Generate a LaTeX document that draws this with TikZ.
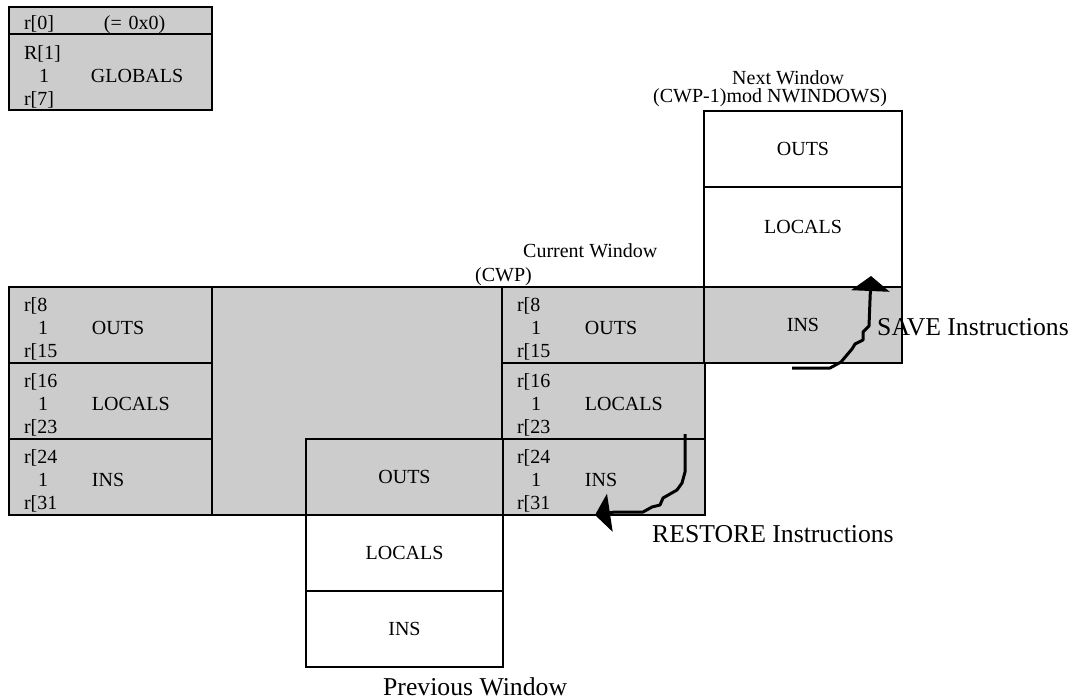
\documentclass[tikz,border=0pt]{standalone}
\usepackage{fontspec}
\setmainfont{Liberation Serif}
\usepackage{xcolor}
\usetikzlibrary{arrows.meta}
\definecolor{winfill}{HTML}{CCCCCC}

\begin{document}
\begin{tikzpicture}[
x=1pt,
y=-1pt,
every node/.style={font=\fontsize{20}{23}\selectfont},
cell/.style={rectangle,draw,line width=2pt,minimum height=76pt,inner sep=0pt,align=center},
regbox/.style={cell,fill=winfill,text width=173pt,inner xsep=15pt,align=left},
lbl/.style={inner sep=0pt,anchor=base west},
biglbl/.style={lbl,font=\fontsize{25.7}{30}\selectfont},
arr/.style={line width=3pt,line join=round,-{Triangle[length=15pt,width=38pt]}}
]
\useasboundingbox (0,0) rectangle (1083,700);

% globals
\node[cell,fill=winfill,minimum width=203pt,minimum height=27pt,text height=20pt,text depth=1pt,text width=173pt,inner xsep=15pt,align=left] (gzero) at (110.5,20.5) {r[0]\hspace{50pt}(= 0x0)};
\node[regbox] (gregs) at (110.5,72) {\rule{0pt}{24pt}R[1]\\\hspace*{15pt}1\hspace{42pt}GLOBALS\\r[7]};

% register bank
\node[draw,line width=2pt,fill=winfill,minimum width=695pt,minimum height=228pt,inner sep=0pt] (bank) at (356.5,401) {};
\node[regbox] (lout) at (110.5,325) {\rule{0pt}{22pt}r[8\\\hspace*{14pt}1\hspace{44pt}OUTS\\r[15};
\node[regbox] (lloc) at (110.5,401) {\rule{0pt}{22pt}r[16\\\hspace*{14pt}1\hspace{44pt}LOCALS\\r[23};
\node[regbox] (lins) at (110.5,477) {\rule{0pt}{22pt}r[24\\\hspace*{14pt}1\hspace{44pt}INS\\r[31};
\node[regbox] (cout) at (603.5,325) {\rule{0pt}{22pt}r[8\\\hspace*{14pt}1\hspace{44pt}OUTS\\r[15};
\node[regbox] (cloc) at (603.5,401) {\rule{0pt}{22pt}r[16\\\hspace*{14pt}1\hspace{44pt}LOCALS\\r[23};
\node[regbox] (cins) at (603.5,477) {\rule{0pt}{22pt}r[24\\\hspace*{14pt}1\hspace{44pt}INS\\r[31};

% previous window
\node[cell,fill=winfill,minimum width=197pt] (pout) at (404.5,477) {OUTS};
\node[cell,fill=white,minimum width=197pt] (ploc) at (404.5,553) {LOCALS};
\node[cell,fill=white,minimum width=197pt] (pins) at (404.5,629) {INS};

% next window
\node[cell,fill=white,minimum width=198pt] (nout) at (803,149) {OUTS};
\node[cell,fill=white,minimum width=198pt,minimum height=100pt,text depth=20pt] (nloc) at (803,237) {LOCALS};
\node[cell,fill=winfill,minimum width=198pt] (nins) at (803,325) {INS};

% save / restore
\coordinate (savefrom) at (792,368);
\coordinate (saveto) at (871,276);
\draw[arr] (savefrom) -- (830,368) -- (841,362) -- (852,349) -- (855,344) -- (863,340) -- (863,332) -- (869,326) -- (870,300) -- (saveto);
\coordinate (restfrom) at (685,434);
\coordinate (restto) at (595,515);
\draw[arr] (restfrom) -- (685,472) -- (682,483) -- (677,490) -- (670,494) -- (663,498) -- (660,505) -- (652,507) -- (643,512) -- (615,512) -- (restto);

\node[lbl] (curlbl) at (523,258) {Current Window};
\node[lbl] (cwplbl) at (475,282) {(CWP)};
\node[lbl] (nextlbl) at (732,85) {Next Window};
\node[lbl] (modlbl) at (653,103) {(CWP-1)mod NWINDOWS)};
\node[biglbl] (savelbl) at (877,335) {SAVE Instructions};
\node[biglbl] (restlbl) at (652,542) {RESTORE Instructions};
\node[biglbl] (prevlbl) at (383,695) {Previous Window};
\end{tikzpicture}
\end{document}
